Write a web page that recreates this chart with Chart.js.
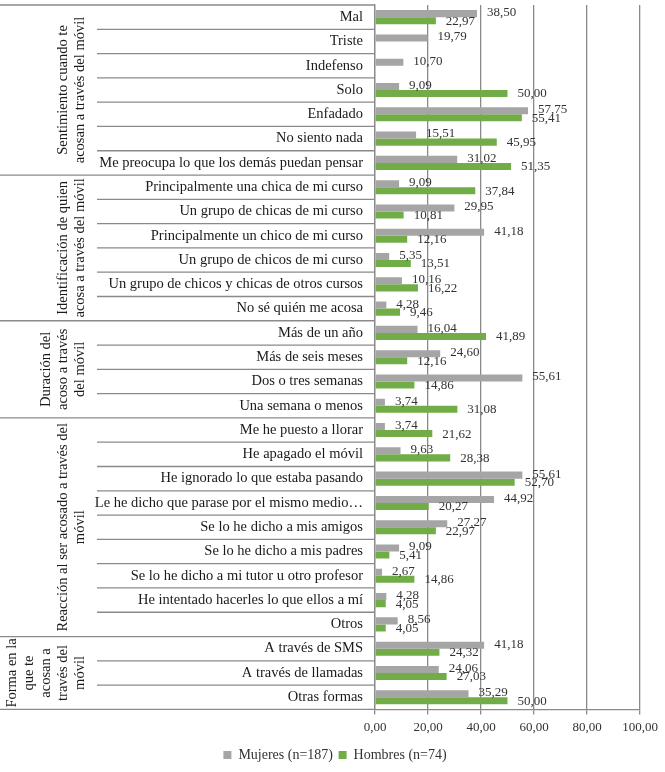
<!DOCTYPE html>
<html><head><meta charset="utf-8">
<script src="https://cdn.jsdelivr.net/npm/chart.js@4.4.1/dist/chart.umd.min.js"></script>
<style>html,body{margin:0;padding:0;background:#fff;} #wrap{width:665px;height:772px;position:relative;}</style>
</head><body><div id="wrap"><canvas id="c"></canvas></div>
<script>
const categories = [
  'Mal','Triste','Indefenso','Solo','Enfadado','No siento nada','Me preocupa lo que los demás puedan pensar',
  'Principalmente una chica de mi curso','Un grupo de chicas de mi curso','Principalmente un chico de mi curso','Un grupo de chicos de mi curso','Un grupo de chicos y chicas de otros cursos','No sé quién me acosa',
  'Más de un año','Más de seis meses','Dos o tres semanas','Una semana o menos',
  'Me he puesto a llorar','He apagado el móvil','He ignorado lo que estaba pasando','Le he dicho que parase por el mismo medio…','Se lo he dicho a mis amigos','Se lo he dicho a mis padres','Se lo he dicho a mi tutor u otro profesor','He intentado hacerles lo que ellos a mí','Otros',
  'A través de SMS','A través de llamadas','Otras formas'
];
const groupNames = [
  ['Sentimiento cuando te','acosan a través del móvil'],
  ['Identificación de quien','acosa a través del móvil'],
  ['Duración del','acoso a través','del móvil'],
  ['Reacción al ser acosado a través del','móvil'],
  ['Forma en la','que te','acosan a','través del','móvil']
];
const groupSizes = [7, 6, 4, 9, 3];
const mujeres = [38.50,19.79,10.70,9.09,57.75,15.51,31.02, 9.09,29.95,41.18,5.35,10.16,4.28, 16.04,24.60,55.61,3.74, 3.74,9.63,55.61,44.92,27.27,9.09,2.67,4.28,8.56, 41.18,24.06,35.29];
const hombres = [22.97,null,null,50.00,55.41,45.95,51.35, 37.84,10.81,12.16,13.51,16.22,9.46, 41.89,12.16,14.86,31.08, 21.62,28.38,52.70,20.27,22.97,5.41,14.86,4.05,4.05, 24.32,27.03,50.00];
const seriesNames = ['Mujeres (n=187)','Hombres (n=74)'];
const xMin = 0, xMax = 100, xStep = 20;

const SERIF = "'Liberation Serif', 'Times New Roman', serif";
const LINE = '#8a8a8a';
const PAD_LEFT = 30;
const fmt = v => v.toFixed(2).replace('.', ',');

const valueLabels = {
  id: 'valueLabels',
  afterDatasetsDraw(chart) {
    const ctx = chart.ctx;
    ctx.save();
    ctx.font = '13px ' + SERIF;
    ctx.fillStyle = '#333';
    ctx.textAlign = 'left';
    ctx.textBaseline = 'middle';
    chart.data.datasets.forEach((ds, di) => {
      const meta = chart.getDatasetMeta(di);
      meta.data.forEach((el, i) => {
        const v = ds.data[i];
        if (v === null || v === undefined) return;
        ctx.fillText(fmt(v), el.x + 10, el.y + (di === 0 ? -1 : 0.5));
      });
    });
    ctx.restore();
  }
};

const leftPanel = {
  id: 'leftPanel',
  afterDraw(chart) {
    const ctx = chart.ctx, y = chart.scales.y, ca = chart.chartArea;
    const half = (y.getPixelForValue(1) - y.getPixelForValue(0)) / 2;
    ctx.save();
    ctx.strokeStyle = LINE;
    ctx.lineWidth = 1.3;
    const line = (x1, y1, x2, y2) => { ctx.beginPath(); ctx.moveTo(x1, y1); ctx.lineTo(x2, y2); ctx.stroke(); };
    line(0, ca.top, ca.left, ca.top);
    let idx = 0;
    ctx.font = '14.5px ' + SERIF;
    ctx.fillStyle = '#1a1a1a';
    ctx.textAlign = 'center';
    ctx.textBaseline = 'middle';
    groupSizes.forEach((n, g) => {
      const top = y.getPixelForValue(idx) - half;
      const bottom = y.getPixelForValue(idx + n - 1) + half;
      for (let k = 1; k < n; k++) {
        const yy = y.getPixelForValue(idx + k) - half;
        line(97, yy, ca.left, yy);
      }
      line(0, bottom, ca.left, bottom);
      const lines = groupNames[g];
      const cy = (top + bottom) / 2;
      lines.forEach((t, li) => {
        const cx = 80 - (lines.length - 1 - li) * 17;
        ctx.save();
        ctx.translate(cx, cy);
        ctx.rotate(-Math.PI / 2);
        ctx.fillText(t, 0, 0);
        ctx.restore();
      });
      idx += n;
    });
    ctx.restore();
  }
};

new Chart(document.getElementById('c'), {
  type: 'bar',
  data: {
    labels: categories,
    datasets: [
      { label: seriesNames[0], data: mujeres, backgroundColor: '#a5a5a5', borderWidth: 0 },
      { label: seriesNames[1], data: hombres, backgroundColor: '#70ad47', borderWidth: 0 }
    ]
  },
  options: {
    indexAxis: 'y',
    responsive: true,
    maintainAspectRatio: false,
    animation: false,
    datasets: { bar: { categoryPercentage: 0.58, barPercentage: 1.0 } },
    layout: { padding: { top: 5, right: 25, left: PAD_LEFT, bottom: 0 } },
    scales: {
      x: {
        min: xMin, max: xMax,
        afterFit: s => { s.height = 33; },
        ticks: { stepSize: xStep, callback: v => fmt(v), font: { family: SERIF, size: 13 }, color: '#333', padding: 5, maxRotation: 0 },
        grid: { color: LINE, lineWidth: 1.3, tickLength: 5 },
        border: { color: LINE, width: 1.3 }
      },
      y: {
        afterFit: s => { s.width = 375 - PAD_LEFT; s.paddingTop = 0; s.paddingBottom = 0; },
        ticks: { autoSkip: false, font: { family: SERIF, size: 14.5 }, color: '#1a1a1a', padding: 12 },
        grid: { display: false, drawTicks: false },
        border: { color: LINE, width: 1.3 }
      }
    },
    plugins: {
      legend: {
        position: 'bottom',
        labels: { boxWidth: 8, boxHeight: 8, font: { family: SERIF, size: 14 }, color: '#333', padding: 5.6 }
      },
      tooltip: { enabled: false }
    }
  },
  plugins: [valueLabels, leftPanel]
});
</script>
</body></html>
